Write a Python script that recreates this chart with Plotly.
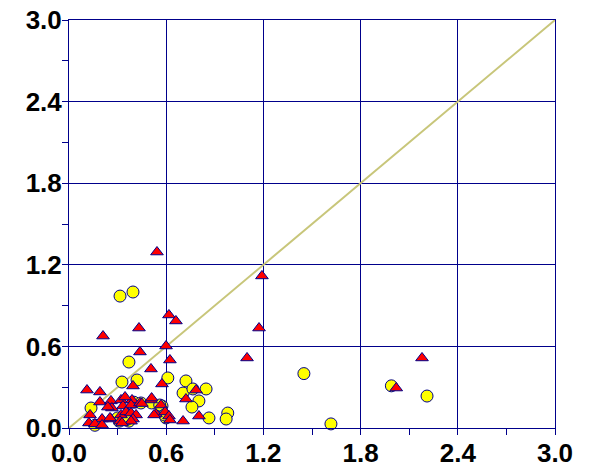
import plotly.graph_objects as go

# Yellow circles series
circle_x = [0.315, 0.395, 0.37, 0.327, 0.42, 0.61, 0.722, 0.704, 0.765, 0.846,
            0.802, 0.759, 0.574, 0.599, 0.864, 0.98, 0.97, 0.136, 0.40, 0.444,
            0.51, 0.56, 0.31, 0.37, 0.16, 0.59, 0.30, 0.36,
            1.45, 1.617, 1.99, 2.21]
circle_y = [0.97, 1.00, 0.485, 0.338, 0.353, 0.368, 0.346, 0.257, 0.287, 0.287,
            0.199, 0.154, 0.162, 0.074, 0.074, 0.11, 0.066, 0.147, 0.19, 0.184,
            0.184, 0.169, 0.05, 0.05, 0.02, 0.096, 0.074, 0.066,
            0.40, 0.03, 0.31, 0.235]

# Red triangles series
tri_x = [0.543, 1.191, 0.617, 0.66, 0.432, 0.21, 1.173, 0.599, 0.438, 0.623,
         1.099, 2.179, 2.02, 0.506, 0.574, 0.395, 0.111, 0.191, 0.191, 0.259,
         0.321, 0.389, 0.333, 0.265, 0.383, 0.506, 0.568, 0.13, 0.204, 0.259,
         0.321, 0.352, 0.383, 0.414, 0.395, 0.123, 0.16, 0.204, 0.537, 0.593,
         0.617, 0.623, 0.704, 0.802, 0.722, 0.784, 0.315, 0.383, 0.438, 0.51,
         0.525, 0.24, 0.346, 0.253, 0.327, 0.45]
tri_y = [1.294, 1.118, 0.831, 0.787, 0.735, 0.676, 0.735, 0.603, 0.559, 0.50,
         0.515, 0.515, 0.294, 0.434, 0.324, 0.309, 0.279, 0.265, 0.191, 0.199,
         0.206, 0.206, 0.162, 0.147, 0.169, 0.206, 0.169, 0.096, 0.066, 0.066,
         0.096, 0.118, 0.11, 0.096, 0.066, 0.037, 0.03, 0.022, 0.103, 0.118,
         0.088, 0.059, 0.051, 0.088, 0.213, 0.279, 0.05, 0.05, 0.184, 0.22,
         0.096, 0.154, 0.228, 0.074, 0.037, 0.18]

# 1:1 reference line
line_x = [0.0, 3.0]
line_y = [0.0, 3.0]

tick_vals = [0.0, 0.6, 1.2, 1.8, 2.4, 3.0]
tick_text = ["0.0", "0.6", "1.2", "1.8", "2.4", "3.0"]

NAVY = "#00008B"

fig = go.Figure()
fig.add_trace(go.Scatter(x=line_x, y=line_y, mode="lines",
                         line=dict(color="#C8C67A", width=2), showlegend=False,
                         hoverinfo="skip"))
fig.add_trace(go.Scatter(x=circle_x, y=circle_y, mode="markers", cliponaxis=False,
                         marker=dict(symbol="circle", size=12, color="#FFFF00",
                                     line=dict(color=NAVY, width=1)),
                         showlegend=False))
fig.add_trace(go.Scatter(x=tri_x, y=tri_y, mode="markers", cliponaxis=False,
                         marker=dict(symbol="triangle-up", size=11, color="#FF0000",
                                     line=dict(color=NAVY, width=1)),
                         showlegend=False))

axis_common = dict(
    range=[0, 3], tickvals=tick_vals, ticktext=tick_text, automargin=False,
    showgrid=True, gridcolor=NAVY, gridwidth=1,
    zeroline=False, showline=True, linecolor=NAVY, linewidth=1, mirror=True,
    ticks="outside", ticklen=6, tickcolor=NAVY, tickwidth=1,
    minor=dict(dtick=0.3, tick0=0, ticks="outside", ticklen=6, tickcolor=NAVY,
               tickwidth=1, showgrid=False),
    tickfont=dict(family="Liberation Sans, Arial, sans-serif", size=26,
                  color="black", weight="bold"),
    ticklabeloverflow="allow",
    fixedrange=True,
)

fig.update_layout(
    width=593, height=470,
    margin=dict(l=69, r=38, t=20, b=42),
    paper_bgcolor="white", plot_bgcolor="white",
    xaxis=dict(axis_common, ticklabelstandoff=-4),
    yaxis=dict(axis_common, ticklabelstandoff=-5),
)

fig.write_html(
    "out.html",
    config={"displayModeBar": False},
    post_script="document.body.style.margin='0';document.body.style.overflow='hidden';",
)
